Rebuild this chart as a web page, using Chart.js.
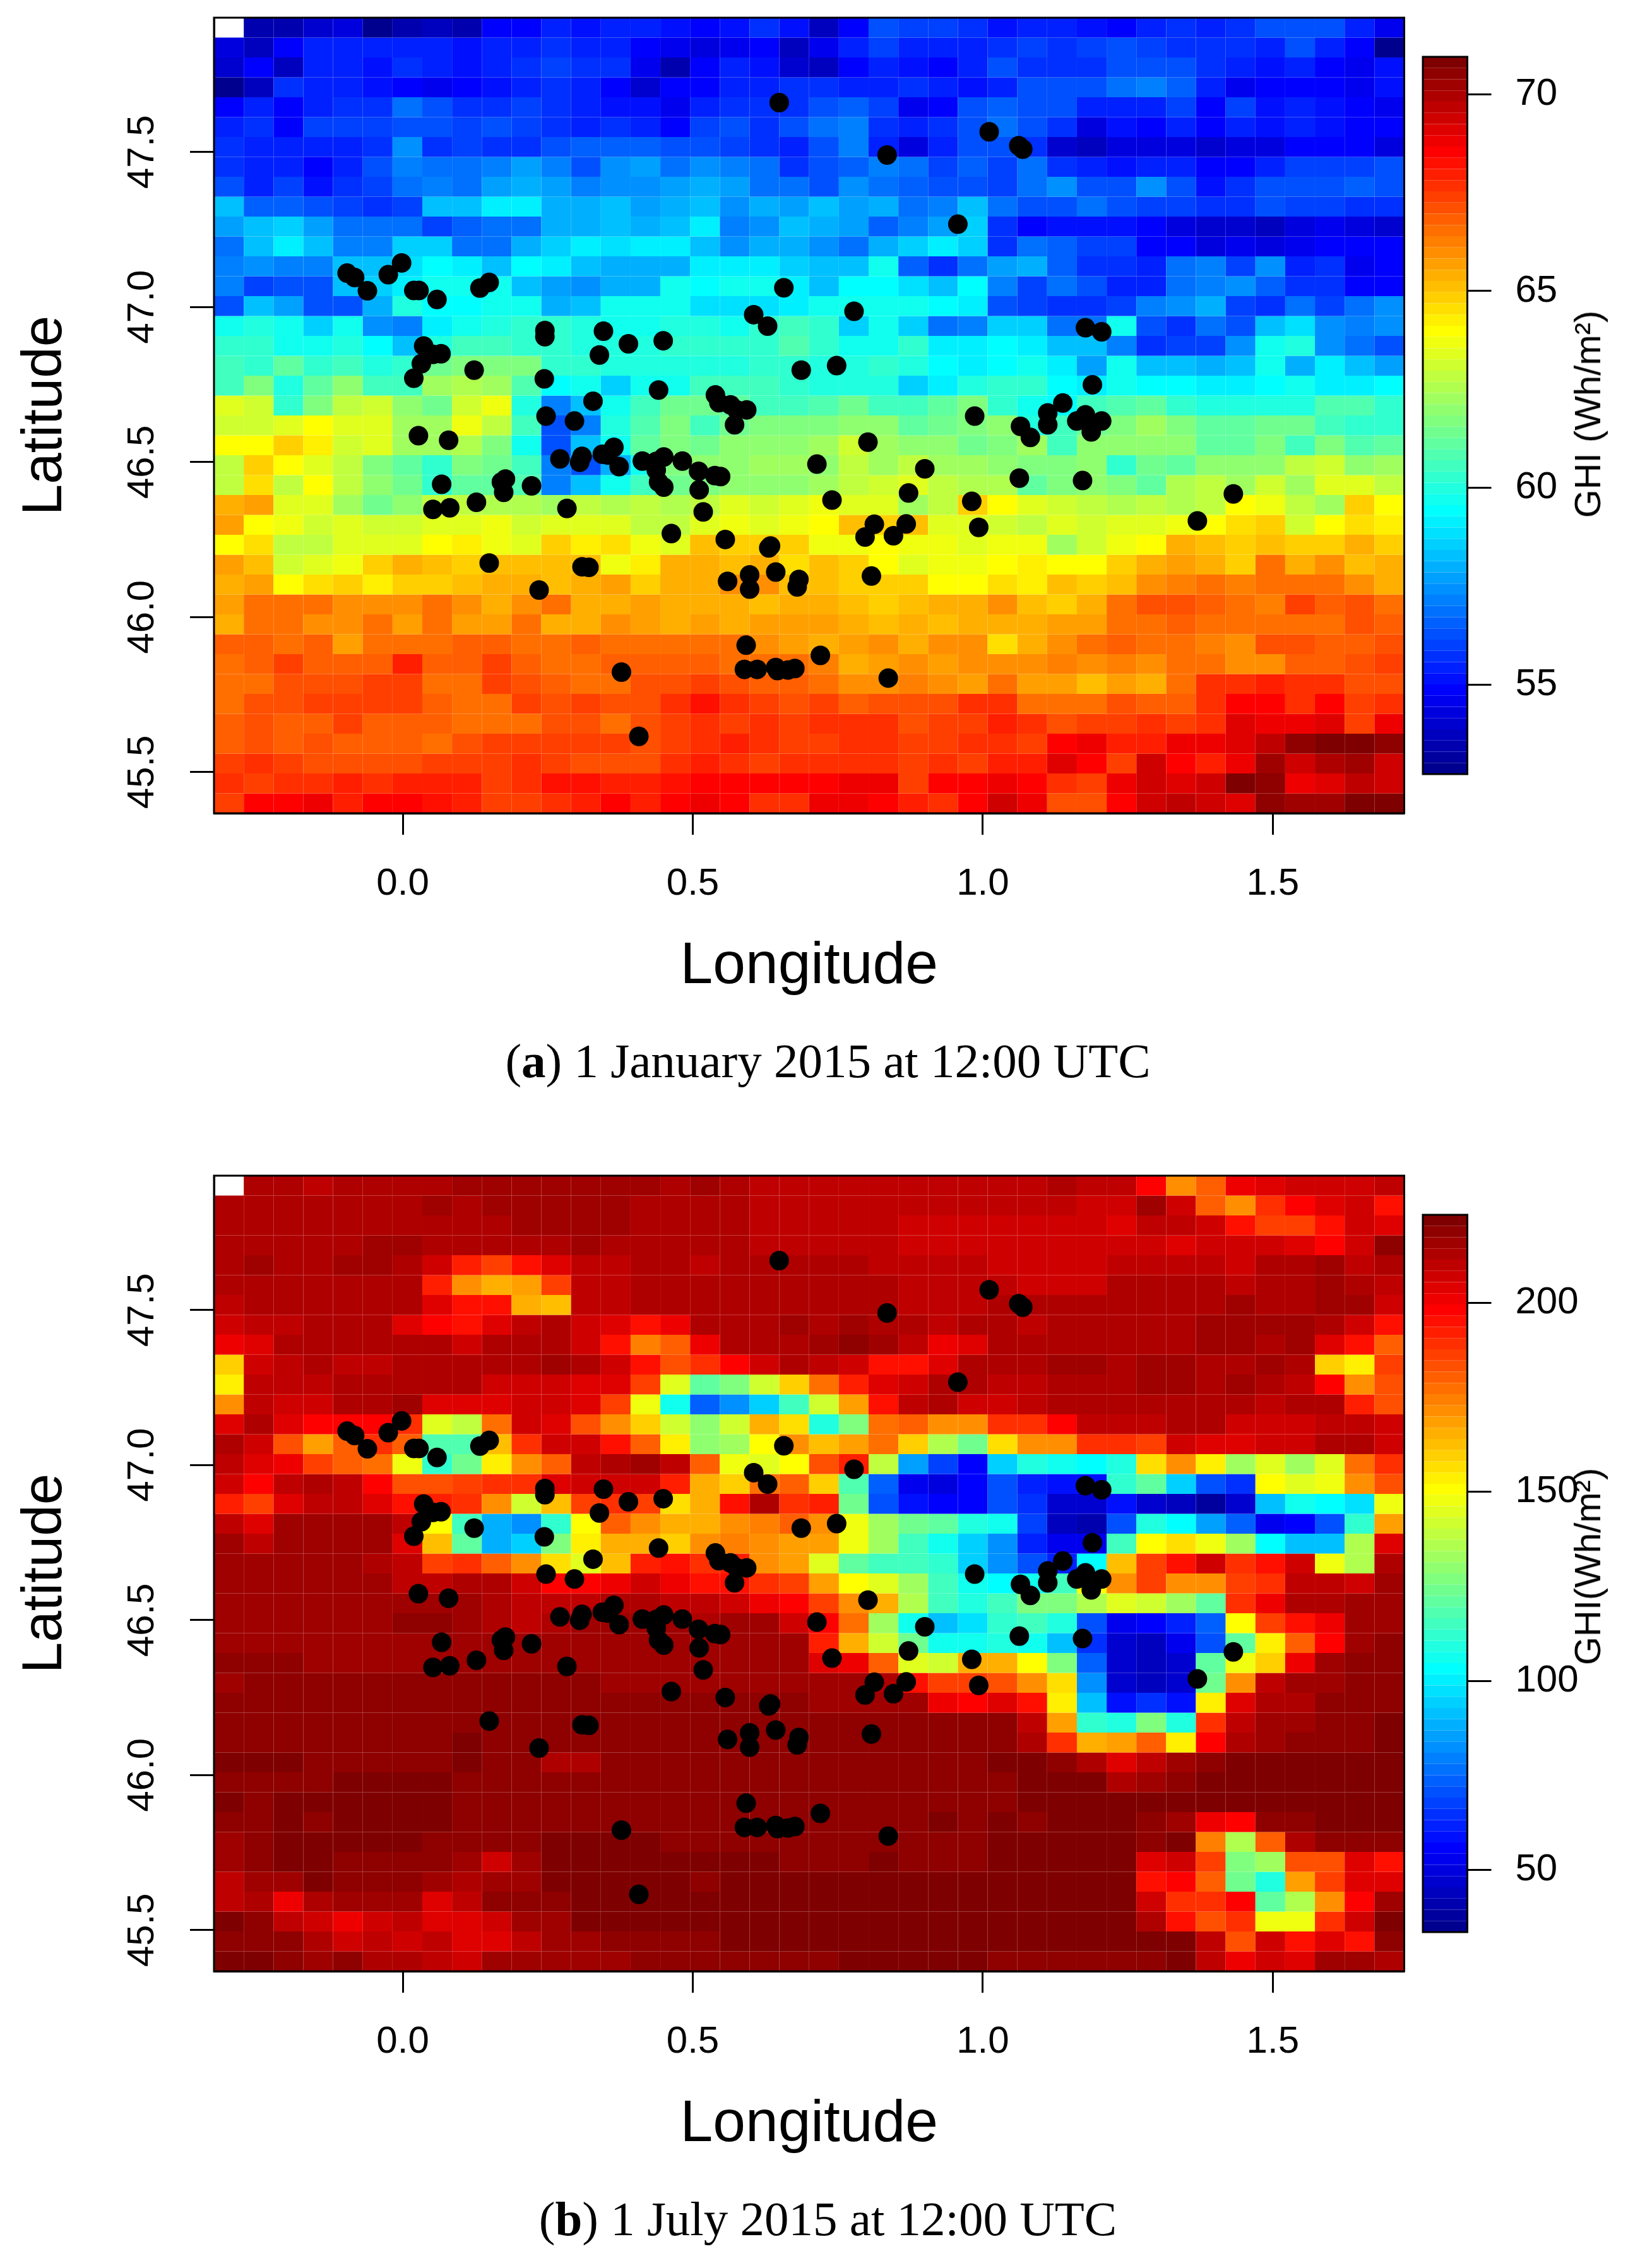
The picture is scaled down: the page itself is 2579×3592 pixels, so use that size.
<!DOCTYPE html>
<html><head><meta charset="utf-8">
<script src="https://cdn.jsdelivr.net/npm/chart.js@4"></script>
<style>
html,body{margin:0;padding:0;background:#fff;}
body{position:relative;width:2579px;height:3592px;overflow:hidden;}
canvas{position:absolute;}
.cap{position:absolute;left:22px;width:2579px;text-align:center;font-family:"Liberation Serif",serif;font-size:77px;line-height:80px;color:#000;white-space:pre;}
.ghi{position:absolute;font-family:"Liberation Sans",sans-serif;font-size:58px;line-height:60px;color:#000;white-space:pre;transform:translate(-50%,-50%) rotate(-90deg);}
</style></head><body>
<canvas id="heatA" width="2240" height="1620" style="left:0;top:0"></canvas>
<canvas id="barA" width="339" height="1300" style="left:2240px;top:0"></canvas>
<div class="cap" style="top:1640px">(<b>a</b>) 1 January 2015 at 12:00 UTC</div>
<div class="ghi" style="left:2515px;top:656px">GHI (Wh/m²)</div>
<canvas id="heatB" width="2240" height="1620" style="left:0;top:1834px"></canvas>
<canvas id="barB" width="339" height="1300" style="left:2240px;top:1834px"></canvas>
<div class="cap" style="top:3474px">(<b>b</b>) 1 July 2015 at 12:00 UTC</div>
<div class="ghi" style="left:2515px;top:2481px">GHI(Wh/m²)</div>
<script>
const lonCentres=[-0.2998,-0.2485,-0.1972,-0.1459,-0.0946,-0.0433,0.0080,0.0593,0.1106,0.1619,0.2132,0.2645,0.3158,0.3671,0.4184,0.4697,0.5210,0.5723,0.6236,0.6749,0.7262,0.7775,0.8288,0.8801,0.9314,0.9827,1.0340,1.0853,1.1366,1.1879,1.2392,1.2905,1.3418,1.3931,1.4444,1.4957,1.5470,1.5983,1.6496,1.7009];
const latCentres=[47.9009,47.8368,47.7726,47.7085,47.6443,47.5802,47.5160,47.4519,47.3877,47.3236,47.2594,47.1953,47.1311,47.0670,47.0028,46.9387,46.8745,46.8104,46.7462,46.6821,46.6179,46.5538,46.4896,46.4255,46.3613,46.2972,46.2330,46.1689,46.1047,46.0406,45.9764,45.9123,45.8481,45.7840,45.7198,45.6557,45.5915,45.5274,45.4632,45.3991];
const latHalfCell=0.03208;
const lonRange=[-0.3255,1.7266];
const latRange=[45.367,47.933];
const lonTicks=[0,0.5,1,1.5];
const latTicks=[45.5,46,46.5,47,47.5];
const barRangeJan=[52.73,70.95];
const barRangeJul=[33.6,223.2];
const barTicksJan=[55,60,65,70];
const barTicksJul=[50,100,150,200];
const ghiJan=[
[null,53.3,53.5,54,54.3,52.9,53.5,53.7,53.4,55,55,55.4,55.2,55.5,55.4,55.2,55,55.2,55.7,55.2,53.6,55,56.4,56,55.9,55.6,55.2,55.4,55.4,55.1,55,55.4,55.6,55.5,55.7,56.4,56.2,56.2,55.5,54.6],
[54.4,53.6,55,55.5,55.3,55.4,55.3,55.4,55.2,55.3,55.4,55.6,55.4,55.5,55,54.6,54.2,54.6,55,53.7,54.6,55.3,56,55.5,55.4,55.3,55.6,56,55.6,55.9,56.2,56,55.6,55.7,55.7,55.5,56.4,55.3,55,52.9],
[54,55,53.7,55.3,55.3,55.2,55.6,55.3,55.2,55.3,55.7,56,55.7,55.8,54.6,53.4,55,55.4,55.1,54,53.6,55,55.3,55.1,55,55.4,56.2,55.8,55.7,55.6,56.2,56.2,56.4,55.8,55.5,55.2,55.4,55,54.6,55.1],
[52.9,53.8,55.6,55.3,55.3,55.2,55,54.6,54.8,55.2,55.5,55.6,55.5,55,54,55,54.8,55.5,55.5,55.6,55.7,55.4,55.4,55.7,55.4,55.1,55.4,56.2,56.3,56.2,56.8,57.2,56.6,55.4,54.6,55,54.8,54.8,54.6,55.1],
[55,55.5,55,55.4,55.7,55.8,56.8,56.3,55.7,55.8,56,55.7,55.4,55.1,55.1,54.6,55.3,55.7,55.8,55.8,56.2,56.6,56,54.6,55,56.2,56.6,56.4,56.3,55.4,55.4,55.4,56,55,56,55.2,55.4,55.1,54.8,54.6],
[55.4,55.7,55,56,56,56.1,56.3,56.2,56,56.2,56.1,55.8,55.5,55.7,55.4,55,56.1,56.2,55.8,56.3,56.8,57.2,55.7,55.5,55.6,56.2,56.8,56.2,55.7,54.4,55.1,55,55.5,54.8,55.4,55.2,55.3,55.2,55,54.8],
[55.8,55.5,55.5,55.5,55.5,55.8,57.5,55.6,56,55.8,55.8,56.4,56.6,56.6,56.6,56.3,56.3,56,55.6,55.5,56.4,57.2,55.4,54.4,55.4,56.2,56.4,55.7,54,53.8,54.4,54.4,54.2,54,54.2,54.4,54.8,55,54.8,54.4],
[55.7,55.4,55.4,55,55.4,56.2,57.2,57,57,57.2,57.7,57.2,56.3,57.3,57.7,57,57.3,57.2,56.8,55.8,56.3,56.6,57.2,57,56.1,56.6,56,56.8,55.7,55.4,55.1,55.3,55.5,55,55,55.4,56.1,56.1,56,56.3],
[56.2,55.4,56,55.1,55.8,56.1,57,57.2,57,57.7,57.9,57.7,57.2,57.5,57.3,57.7,58,57.7,57,56.8,56.2,57.3,57,56.6,56.3,56.2,56.1,56.8,57.3,56.3,56.2,57.5,56.4,55.2,55.7,56.2,56.3,56.3,56.6,56.2],
[58.2,56.6,56.6,56.3,56.1,55.6,56,58.2,58.2,59,59,58,58,58.4,57.7,58,58.2,57.3,57.9,57.7,58.2,57.7,58,57,57.2,58.2,56.8,56.2,56.4,56.8,56.2,56.1,56.1,55.7,55.8,56.2,56,56,55.8,55.6],
[57.7,58.2,58.6,57.7,56.8,57,56.8,56.1,56.6,57,56.8,57.9,58,58.2,58,58.4,59,57.2,57.5,58.2,57.9,57.7,56.6,57.2,57.7,58.6,55.7,55,55.2,55.1,55.1,54.8,54.4,54,53.9,53.7,54.4,54.6,54.4,54],
[56.8,58.2,59,58.2,57.2,57.2,58.6,58.6,57,57,58,58.6,59.2,58.8,59,59,58.2,57.3,57.9,58,57.3,56.8,58,58.6,59,58.6,55.6,56.8,56.6,56,56,55,54.8,54.2,54.6,54.4,54.6,55,54.8,54.8],
[57.2,57.5,57.2,57.2,58.4,58.4,58.8,59.5,59,58.2,59.5,59,58.4,58,57.9,58,59,59.2,59.2,58.6,58.2,58.4,59.6,56.6,55.8,57,57.7,57.9,56.6,55.8,55.6,55.4,56.8,57.2,56,57.5,55.5,55.7,54.6,55],
[57.2,56.1,56.3,56.2,58.2,58.6,59,59.6,59.6,59.6,58.4,57.7,57.3,57.9,57.9,59.6,59.5,59.6,59.6,59,58.4,59.3,59.3,58.8,58.4,59.3,57.2,56.1,57,56.3,55.5,55.4,57,57.2,57.3,56.6,55.7,55.7,55,55],
[56.4,58.2,57.7,56.3,56.2,58,59.9,59.3,59.3,59.6,59.6,57.9,58.2,59.8,59.8,59.6,58.8,58.8,58.8,59,59.6,59.6,59.6,59.6,59.3,59,56.4,56,55.7,55.6,56.1,57.2,57.5,57.9,56,55.8,57,56,57,57.3],
[59.6,59.9,59.8,58.6,59.6,57.5,57.2,59.2,59.6,60,60.4,60.2,60.1,59.8,59.6,60,59.9,59.6,60.4,60.7,60.2,58.6,59.8,58.6,57,57.2,58.6,58.6,57,57,59.6,56.4,55.7,56.8,56.4,58.2,58.8,57.5,57.2,57.5],
[60.3,60.4,59.6,59.6,60,59.3,58.4,60.1,60.7,60.7,60.3,60.2,60,60,60,60.2,60.2,60.3,60.4,60.9,60.4,59.6,59.6,60.2,59,59.2,59.5,59,58.2,58.2,57.2,55.8,56,56.1,57.3,59.6,59.9,57.5,56.8,56.3],
[60.5,60.3,61.2,60.3,60.5,60.1,60.3,61.4,61.6,61.6,61.6,60.3,60.3,60.1,60,60.1,60.1,60.1,60.2,60.3,60.1,59.9,60.3,60,59.3,59,59.3,59.8,59.2,57.7,59.6,58.2,58.4,58,58.2,59.6,57.9,59,58.4,57.7],
[60.5,61.8,60.1,61,62,60.5,60.7,62.3,62.5,62.4,60.9,59.5,59.6,58.6,59.6,59.6,60.5,60.5,60.7,60.2,59.9,59.9,59.9,58.6,59,60,60.3,60.4,59.3,59,59.8,59.5,59.3,59.2,59,59.3,59.8,59,59.2,59.5],
[63.5,63.2,60.4,61.8,62.7,63,62.1,61.4,63.2,63.8,60.1,57.2,58.2,59.6,60.7,61.4,61.4,61,60.5,60.5,60.9,61.4,60.7,60.5,61.2,61.8,60.4,59.6,59.3,60.5,60.9,61,60.3,60.1,60.1,60.1,60.1,60.9,60.9,60.4],
[63.2,63.2,63.5,64.1,63.3,63.5,62.3,62.3,63.8,62.8,60.7,56.3,57.2,59.9,60.9,61.8,60.5,61.4,61.6,61.8,61.8,62,62,61,61.4,61.8,62,59.9,60.7,61.4,61.8,62.4,61.8,61,61,61.4,61.4,60.7,60.4,60.4],
[64.1,64.1,64.8,64.2,63,63.3,62.3,62.4,62.5,61.8,59.8,56.3,58.2,59.8,61,61.6,61.4,62,62.1,61.9,62.3,63,62.3,62,62,61.4,61.8,62.3,60.7,61.9,62.1,62.1,61.9,61,61,61.6,60.7,61.8,60.9,61.2],
[62.7,64.8,64.1,63.5,62.7,61.8,61,60.4,61.8,61.4,60.5,57.2,56.3,58,59.8,61.6,61.9,62,62.3,62.3,62.1,62.7,62.4,62.7,62.4,62.4,62.1,61.8,61.8,62,60.4,61.4,61.2,61.9,61.9,62.1,62.7,63,62,62.4],
[62.7,64.5,62.8,64.1,62.7,62,61.4,60.4,61,61,60.9,57.2,58.2,59.6,60.5,61.4,61.8,62,62.1,62.1,62.3,62.7,63,63.3,62.8,62.5,62.5,61.2,61.8,61.9,61.6,61,62.5,62.7,62.4,63,62.4,63.5,63.5,62.7],
[65.4,65.7,63.5,63.3,62.3,61.4,62,62.7,62.8,62.5,62.5,62.4,62.8,62.5,62.8,62.5,62.7,63.5,63.2,63.3,63.6,63.5,63.5,62.4,62.8,64.7,64.1,63.5,63.2,62.8,62.5,62.8,62.5,62.8,64.1,63.8,62.8,62.4,64.8,64.1],
[65.7,64.1,63.8,63,63.3,63,63.2,63.5,63.5,63.6,63.2,63.5,63.5,63.3,62.7,62.7,63.5,63.6,63.5,63.8,64.1,65.1,64.8,65.1,63.5,63.3,63.2,62.8,63.5,63.2,63.3,63.5,63.6,64.1,64.5,64.9,63,64.1,64.5,64.3],
[64.1,64.5,62.8,62.8,63.3,63.3,63.3,64.1,64.3,63.6,63.5,64.8,64.3,64.5,63.6,63.3,65.1,64.8,64.8,64.7,63.6,63.8,64.1,63.8,63.6,63.5,63.6,63.8,62.4,63,63.8,64.1,65.4,65.2,64.9,65.1,64.8,64.8,65.3,64.9],
[65.7,65.1,63,63.3,63.6,64.7,65.3,65.2,64.8,65.1,65.2,65.1,65.2,63.6,64.3,65.3,65.3,65.1,65.3,64.5,65.2,64.7,64.1,63.3,63.6,63.6,64.1,64.3,64.1,64.1,64.8,65.4,65.6,65.4,64.8,66.5,65.4,65.9,65.2,65.4],
[65.4,65.7,64.1,64.5,64.8,64.3,64.9,64.9,65.2,65.4,65.3,65.2,65.4,65.7,64.9,65.4,65.4,66,65.9,65.2,65.1,64.8,64.8,64.8,64.1,64.1,64.5,64.3,65.1,64.7,65.1,66,66.2,66.4,66.2,66.4,66.4,66.4,66,65.4],
[65.6,66.4,66.6,66.4,65.9,66,66,66.4,66,65.3,65.9,66.6,65.3,65.4,65.6,65.4,65.4,65.3,65.1,65.3,65.3,65.1,64.8,65.1,65.3,65.4,66,65.1,64.8,65.4,66.4,67.1,67,66.9,66.4,66.2,67.5,66.8,67,66.5],
[65.4,66.6,66.4,66,66,66.6,65.6,66.4,65.7,65.6,66.4,65.4,65.3,65.9,65.6,65.4,65.6,65.3,65.7,65.7,65.6,65.3,65.1,65.3,65.2,65.3,65.4,65.4,65.7,65.7,66.4,66.6,66.8,66.6,66.5,66.6,66.4,66.4,67,66.8],
[66.8,66.8,66.5,66.9,65.6,66.5,66.5,66.5,66.9,66.8,66.5,66.5,66.9,66.6,66.6,66.6,66.5,66.4,66,65.6,65.4,65.6,65.9,65.3,65.9,65.9,64.5,65.4,66,66.4,66.8,66.4,66.4,66.2,66,67.1,67,66.8,66.9,67],
[66.5,66.8,67.3,66.9,66.8,66.8,68,66.8,66.8,67.3,66.9,66.6,66.5,66.8,66.8,66.9,66.9,66.6,66.5,66.4,66.2,65.4,65.7,66,65.7,66,66,66,66.2,66,66.2,66,66.4,66.6,66,66,66.9,66.9,67.1,67.4],
[66.5,66.5,67,67.1,67.1,67.3,67.4,66.6,66.5,67.3,67,66.8,66.6,66.5,67,67.1,67.3,67.1,66.9,66.8,66.4,65.9,65.9,66.2,66,65.7,66.4,65.7,65.6,65.2,65.7,65.4,66.5,67.7,67.8,68,67.7,67.7,67.1,67.1],
[66.5,67,67.1,67.5,67.3,67.3,67.4,66.9,66.5,66.5,67.3,67.1,67.3,67.1,67.1,67.7,68.2,67.7,67.4,67.1,67.4,66.9,67.1,67,67,67.7,67.7,66.6,66.5,66.5,67.1,66.9,66.8,67.8,68.4,68.4,67.7,68.4,67.4,67.8],
[66.8,67.1,66.9,66.8,67.3,66.8,66.8,66.8,66.6,66.5,66.5,67,67,66.6,67,67.4,67.7,67.4,67.7,67.5,67.7,67.8,67.7,67.1,67.5,67.4,68,67.7,67.1,67.3,67.3,67.7,67.4,67.7,69.1,68.7,68.9,69.2,67.5,68.7],
[66.9,67.1,66.9,67.1,66.9,66.8,66.9,66.5,67.1,67.3,67.3,67.4,67.3,67.3,67.1,67.3,67.8,68,67.7,67.3,67.5,67.8,67.8,67.4,67.4,67.8,67.8,67.4,68.4,68.7,68,68,68.7,68.9,69.1,69.6,70.6,70.95,70.8,70.6],
[67.3,67.7,67.4,67.1,67.1,67.1,67,67.3,67.4,67.5,67.7,67.5,67.1,67.1,67.1,67.7,68,67.7,67.5,67.8,67.7,67.7,67.8,67.3,67.7,67.4,68,68,69.1,68.4,67.3,69.4,68.4,68,68.7,70.1,69.4,69.9,70.2,69.4],
[67.7,67.5,67.8,67.7,68,67.7,68,68,68,67.5,67.8,68.2,68.2,68,68,68.2,68.4,68.4,68.5,68.5,68.5,68.7,68.7,67.5,68.4,68.4,68.7,68.4,67.7,67.5,68.7,69.4,69.1,69.5,70.8,70.4,68.9,69.1,69.8,69.5],
[67.3,68.5,68.5,68.7,68,68.4,68.4,68.2,68,67.4,67.5,67.8,68,68.4,68,68.4,68.7,68.4,67.8,67.7,68.7,68.7,68.4,68,67.8,68.4,69.4,68.9,67.1,67.1,68.4,69.5,69.6,69.4,69,70.4,70.1,70.1,70.8,70.8]
];
const ghiJul=[
[null,212,212,211,212,212,212,213,216,216,215,215,216,216,216,213,216,213,210,210,211,210,211,210,210,210,210,209,213,211,210,199,170,181,202,205,207,208,208,211],
[213,213,214,213,213,213,213,215,213,216,216,216,217,216,214,214,214,213,210,210,210,209,209,210,209,209,209,210,210,208,208,217,206,180,172,188,199,203,206,194],
[214,214,213,213,213,214,214,213,214,214,216,217,217,217,214,214,213,213,211,210,209,209,210,208,208,208,208,207,207,207,205,210,210,207,194,186,187,194,207,205],
[214,213,212,212,214,217,217,213,213,212,212,212,216,214,213,213,213,212,211,211,210,209,210,208,208,208,208,207,207,207,207,207,205,207,208,207,205,199,207,219],
[214,216,213,213,215,216,213,208,193,186,195,204,211,211,214,213,210,212,212,212,213,213,210,209,210,210,208,207,206,206,211,211,209,209,206,212,213,216,210,212],
[214,214,214,213,213,213,212,191,172,165,168,185,211,211,213,213,213,213,212,213,214,213,212,211,211,211,209,208,208,208,212,212,214,212,211,214,214,216,214,210],
[211,214,214,213,213,213,213,203,195,194,165,163,211,211,213,213,213,213,213,213,214,214,213,211,209,211,212,212,214,214,214,214,213,214,216,214,213,216,217,208],
[206,211,211,213,213,213,205,199,194,203,211,212,207,205,194,202,213,214,213,216,214,217,212,212,210,213,212,210,214,214,214,214,214,216,216,217,216,213,206,195],
[202,204,212,213,214,214,214,214,207,212,213,214,208,195,173,181,202,213,214,214,216,220,217,210,201,205,213,212,214,214,214,214,214,217,216,213,217,204,194,180],
[159,208,211,213,211,211,213,214,214,214,214,216,212,207,195,183,189,199,206,212,210,207,195,196,204,212,213,214,215,215,214,216,216,214,214,216,213,159,153,186],
[154,210,210,211,214,213,213,212,212,207,207,206,203,203,187,146,122,128,141,159,177,192,205,207,212,213,211,209,214,214,214,216,216,213,216,214,210,199,171,184],
[172,210,208,207,212,214,215,205,203,203,206,207,205,187,149,105,74,81,95,116,142,168,194,210,212,208,207,211,212,213,212,213,212,212,213,209,212,212,193,183],
[204,213,205,199,197,197,190,146,140,178,208,205,184,172,160,142,130,143,165,158,108,128,177,180,172,172,189,190,199,211,211,211,213,212,208,206,207,210,211,208],
[213,208,184,168,181,189,181,118,118,163,190,208,208,195,181,153,130,134,152,170,163,167,177,160,137,125,158,171,171,189,190,187,207,205,204,208,208,213,213,208],
[211,205,202,186,181,177,149,111,125,153,170,181,210,213,216,210,180,147,145,152,183,193,140,85,69,57,95,108,105,102,108,158,172,155,132,146,132,146,178,190],
[208,199,211,213,210,199,183,183,185,190,188,204,208,207,208,192,164,160,178,181,160,118,74,52,49,55,71,63,60,60,113,122,95,72,65,150,145,148,170,183],
[192,187,205,210,210,205,196,193,190,170,143,161,187,189,187,158,164,196,213,189,192,125,71,60,57,57,71,64,48,47,60,48,44,38,47,90,105,102,98,148],
[211,205,217,215,216,215,210,152,116,88,81,112,152,181,172,165,165,172,174,181,170,149,132,125,120,110,105,69,44,42,71,108,102,85,73,53,56,72,113,168],
[217,211,215,215,216,216,205,162,122,88,95,128,154,165,164,159,172,174,170,168,167,148,132,116,105,93,83,62,52,52,116,152,158,148,132,102,92,92,137,205],
[217,217,215,215,215,213,209,187,188,180,172,158,146,162,192,196,189,192,172,167,146,122,116,116,113,93,81,70,62,102,162,185,196,207,188,194,207,149,135,213],
[217,217,217,217,217,215,210,211,213,213,208,199,197,202,208,202,196,196,190,185,168,152,146,134,116,105,102,105,116,150,172,185,172,170,185,190,211,211,208,217],
[215,217,217,217,217,217,217,215,216,214,211,211,211,213,213,211,210,207,202,199,185,172,165,135,116,108,116,128,128,137,146,143,132,122,190,202,213,214,216,217],
[216,216,216,216,216,216,218,218,216,214,211,214,215,215,215,215,214,215,215,208,197,177,134,105,90,97,113,116,110,72,52,55,62,73,152,185,196,202,215,216],
[216,216,216,216,216,216,216,216,216,216,215,215,216,216,216,216,216,216,216,215,192,165,142,125,105,105,110,105,90,65,48,44,52,70,122,155,180,199,216,218],
[220,220,218,216,216,216,216,216,216,216,216,216,216,216,216,216,216,216,216,216,205,202,181,146,143,164,165,152,128,73,48,44,46,122,148,159,202,215,218,219],
[216,219,219,218,219,218,218,218,218,218,218,219,218,216,216,216,216,216,216,216,216,216,214,195,185,186,183,170,157,81,48,45,47,125,172,210,216,216,218,219],
[218,218,218,219,218,218,218,218,218,218,218,219,218,218,218,218,218,218,218,218,216,215,216,215,202,199,204,194,155,90,60,64,60,153,204,213,214,220,219,219],
[219,219,219,218,219,219,219,220,218,218,218,218,218,218,218,218,218,218,218,218,218,218,218,218,218,218,218,211,168,113,110,128,110,190,211,215,216,219,220,222],
[218,218,220,219,219,219,219,219,221,219,218,218,218,218,218,220,219,218,218,218,218,218,218,219,218,219,219,214,188,165,167,181,153,199,213,216,218,219,220,222],
[221,221,221,220,220,220,220,220,221,219,218,214,214,219,220,220,220,220,220,220,220,218,218,220,220,220,221,221,220,214,205,211,216,220,222,222,223,223,222,223],
[218,220,220,220,221,221,221,221,218,218,218,218,218,218,220,219,219,219,219,219,220,219,219,220,220,220,220,221,221,221,212,216,220,221,221,222,223,223,222,222],
[221,218,221,221,221,221,221,221,218,218,219,219,219,219,220,220,220,219,220,220,220,220,220,220,220,220,220,221,221,221,221,221,221,221,222,222,222,223,222,222],
[219,218,221,220,221,221,221,221,219,219,219,219,219,219,220,220,220,220,220,220,220,220,220,220,221,220,222,220,221,221,221,220,215,202,199,218,220,223,222,222],
[215,218,221,221,222,222,222,218,218,218,218,221,221,221,221,220,220,220,220,220,220,220,220,220,220,220,221,221,221,221,221,219,221,174,135,181,213,219,220,220],
[215,218,221,221,218,218,218,218,215,208,215,221,221,221,221,221,221,221,221,220,220,220,222,220,220,220,221,221,221,221,221,205,208,185,128,134,183,183,205,196],
[211,216,216,221,218,218,218,216,214,215,216,221,221,221,221,221,220,221,221,221,221,221,222,221,221,221,221,221,221,222,222,196,199,181,125,108,168,185,205,205],
[210,214,202,212,215,215,215,205,211,218,218,218,221,221,221,221,221,221,221,221,222,221,222,222,222,222,222,221,221,221,221,207,190,190,199,122,137,171,199,216],
[221,218,211,208,202,208,211,205,205,208,215,216,221,221,221,221,221,221,221,221,221,221,222,222,221,221,221,221,221,221,222,213,194,183,190,149,149,189,207,222],
[218,219,218,212,207,210,208,211,204,204,211,215,216,219,220,220,220,221,222,222,222,221,222,221,221,221,221,221,222,222,222,222,222,211,183,208,194,205,194,220],
[221,221,218,216,218,214,213,211,208,215,215,215,216,216,218,220,220,220,220,220,220,222,222,221,221,221,220,220,220,220,220,220,221,211,202,208,205,216,216,214]
];
const stationLon=[0.649,-0.096,-0.083,-0.061,-0.025,-0.002,0.019,0.028,0.059,0.133,0.149,0.657,0.605,0.629,0.245,0.245,0.346,0.389,0.449,0.339,0.036,0.052,0.066,0.032,0.019,0.123,0.244,0.441,0.687,0.748,0.328,0.247,0.296,0.539,0.545,0.565,0.593,0.576,0.572,0.027,0.079,0.271,0.309,0.305,0.344,0.364,0.354,0.373,0.413,0.45,0.437,0.437,0.441,0.45,0.482,0.51,0.538,0.548,0.511,0.518,0.463,0.556,0.634,0.631,0.714,0.740,0.067,0.170,0.177,0.174,0.222,0.052,0.081,0.127,0.283,0.149,0.309,0.321,0.235,0.560,0.598,0.598,0.643,0.683,0.680,0.592,0.589,0.611,0.643,0.646,0.664,0.676,0.720,0.377,0.407,0.835,1.011,1.062,1.069,0.957,0.778,1.177,1.205,1.189,1.138,1.112,1.112,1.065,1.082,0.986,1.177,1.162,1.205,1.187,0.802,0.900,1.063,1.172,0.872,0.981,1.432,1.370,0.813,0.868,0.797,0.846,0.993,0.808,0.837];
const stationLat=[47.659,47.109,47.095,47.052,47.104,47.142,47.053,47.053,47.024,47.061,47.079,47.062,46.975,46.938,46.924,46.904,46.922,46.881,46.891,46.845,46.874,46.847,46.849,46.817,46.77,46.796,46.768,46.732,46.796,46.811,46.696,46.648,46.632,46.716,46.691,46.684,46.668,46.668,46.62,46.585,46.570,46.510,46.518,46.499,46.525,46.547,46.522,46.485,46.503,46.516,46.502,46.474,46.435,46.419,46.503,46.470,46.456,46.453,46.41,46.339,46.269,46.25,46.229,46.223,46.493,46.377,46.428,46.435,46.445,46.402,46.423,46.347,46.352,46.370,46.350,46.174,46.162,46.160,46.087,46.115,46.136,46.090,46.145,46.121,46.097,45.909,45.831,45.831,45.837,45.827,45.829,45.834,45.876,45.822,45.615,47.490,47.565,47.520,47.509,47.267,46.986,46.933,46.920,46.749,46.690,46.658,46.620,46.615,46.579,46.648,46.652,46.632,46.632,46.597,46.564,46.478,46.448,46.440,46.400,46.373,46.397,46.310,46.299,46.300,46.258,46.262,46.289,46.132,45.803];

const LEVELS=64;
function levelColour(i){
  let r=0,g=0,b=0;
  if(i<8){b=0x8f+16*i;}
  else if(i<24){g=Math.min(255,(i-7)*16);b=255;}
  else if(i<40){r=Math.min(255,(i-23)*16);g=255;b=Math.max(0,255-(i-23)*16);}
  else if(i<56){r=255;g=Math.max(0,255-(i-39)*16);}
  else{r=255-(i-55)*16;}
  return `rgb(${r},${g},${b})`;
}
function valueColour(v,range){
  if(v===null) return 'rgba(0,0,0,0)';
  const i=Math.max(0,Math.min(LEVELS-1,Math.floor((v-range[0])/(range[1]-range[0])*LEVELS)));
  return levelColour(i);
}
const FONT='"Liberation Sans", sans-serif';
const framePlugin={id:'frame',afterDraw(c){const a=c.chartArea,x=c.ctx;x.save();x.strokeStyle='#000';x.lineWidth=3;x.strokeRect(a.left,a.top,a.right-a.left,a.bottom-a.top);x.restore();}};
function noOverflow(s){s.paddingTop=0;s.paddingBottom=0;s.paddingLeft=0;s.paddingRight=0;}

function heatChart(id,grid,range){
  const rows=grid.map((row,r)=>({
    type:'bar',order:2,grouped:false,barPercentage:1,categoryPercentage:1,borderWidth:0,inflateAmount:0,
    data:row.map((v,c)=>({x:lonCentres[c],y:v===null?null:[latCentres[r]-latHalfCell,latCentres[r]+latHalfCell]})),
    backgroundColor:row.map(v=>valueColour(v,range))
  }));
  const stations={type:'scatter',order:1,data:stationLon.map((x,i)=>({x,y:stationLat[i]})),
    pointRadius:15.5,pointHoverRadius:15.5,pointBackgroundColor:'#000',pointBorderWidth:0,showLine:false};
  return new Chart(document.getElementById(id),{
    type:'bar',
    data:{datasets:rows.concat([stations])},
    plugins:[framePlugin],
    options:{
      responsive:false,animation:false,devicePixelRatio:1,
      layout:{padding:{left:0,top:28,right:13,bottom:0}},
      plugins:{legend:{display:false},tooltip:{enabled:false},title:{display:false}},
      scales:{
        x:{type:'linear',position:'bottom',offset:false,min:lonRange[0],max:lonRange[1],
          afterBuildTicks:s=>{s.ticks=lonTicks.map(v=>({value:v}));},
          afterFit:s=>{s.height=332;noOverflow(s);},
          grid:{offset:false,drawOnChartArea:false,drawTicks:true,tickLength:34,tickWidth:3,tickColor:'#000'},
          border:{display:true,color:'#000',width:3},
          ticks:{color:'#000',font:{family:FONT,size:60},padding:42,maxRotation:0,minRotation:0,autoSkip:false,callback:v=>Number(v).toFixed(1)},
          title:{display:true,text:'Longitude',color:'#000',font:{family:FONT,size:93},padding:{top:0,bottom:33}}},
        y:{type:'linear',position:'left',min:latRange[0],max:latRange[1],
          afterBuildTicks:s=>{s.ticks=latTicks.map(v=>({value:v}));},
          afterFit:s=>{s.width=339;noOverflow(s);},
          grid:{drawOnChartArea:false,drawTicks:true,tickLength:38,tickWidth:3,tickColor:'#000'},
          border:{display:true,color:'#000',width:3},
          ticks:{color:'#000',font:{family:FONT,size:60},padding:16,minRotation:90,maxRotation:90,crossAlign:'center',autoSkip:false,callback:v=>Number(v).toFixed(1)},
          title:{display:true,text:'Latitude',color:'#000',font:{family:FONT,size:89},padding:{top:19,bottom:0}}}
      }
    }
  });
}
function barChart(id,range,tickVals){
  const step=(range[1]-range[0])/LEVELS;
  const datasets=[];
  for(let i=0;i<LEVELS;i++){
    datasets.push({grouped:false,barPercentage:1,categoryPercentage:1,borderWidth:0,inflateAmount:0,
      data:[[range[0]+i*step,range[0]+(i+1)*step]],backgroundColor:levelColour(i)});
  }
  return new Chart(document.getElementById(id),{
    type:'bar',
    data:{labels:['GHI'],datasets},
    plugins:[framePlugin],
    options:{
      responsive:false,animation:false,devicePixelRatio:1,
      layout:{padding:{left:14,top:90,right:0,bottom:74}},
      plugins:{legend:{display:false},tooltip:{enabled:false}},
      scales:{
        x:{display:false},
        y:{type:'linear',position:'right',min:range[0],max:range[1],
          afterBuildTicks:s=>{s.ticks=tickVals.map(v=>({value:v}));},
          afterFit:s=>{s.width=254.5;noOverflow(s);},
          grid:{drawOnChartArea:false,drawTicks:true,tickLength:38,tickWidth:3,tickColor:'#000'},
          border:{display:true,color:'#000',width:3},
          ticks:{color:'#000',font:{family:FONT,size:60},padding:38,autoSkip:false}}
      }
    }
  });
}
heatChart('heatA',ghiJan,barRangeJan);
barChart('barA',barRangeJan,barTicksJan);
heatChart('heatB',ghiJul,barRangeJul);
barChart('barB',barRangeJul,barTicksJul);
</script>
</body></html>
